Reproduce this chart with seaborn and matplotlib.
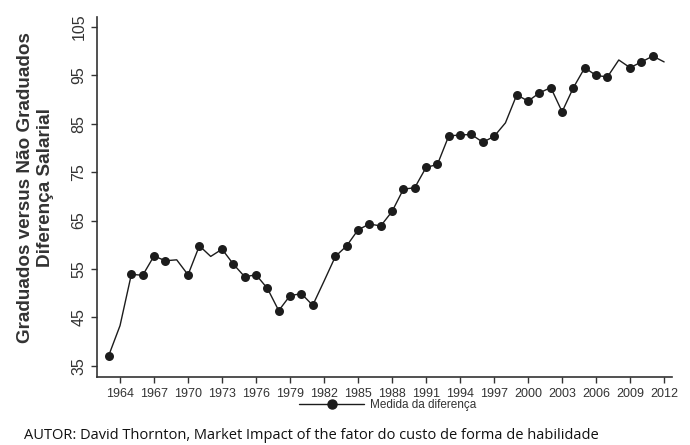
import numpy as np
import pandas as pd
import seaborn as sns
import matplotlib.pyplot as plt
from matplotlib.lines import Line2D

# Dados
anos = list(range(1963, 2013))
diferenca = [37.1, 43.3, 53.9, 53.7, 57.7, 56.7, 56.9, 53.8, 59.8, 57.6,
             59.1, 56.0, 53.4, 53.8, 51.0, 46.4, 49.5, 49.9, 47.5, 52.5,
             57.6, 59.8, 63.1, 64.3, 63.9, 66.9, 71.5, 71.8, 76.0, 76.6,
             82.5, 82.7, 82.8, 81.2, 82.4, 85.2, 91.0, 89.7, 91.4, 92.5,
             87.5, 92.5, 96.6, 95.0, 94.7, 98.2, 96.6, 97.8, 99.0, 97.8]
sem_marcador = [1964, 1969, 1972, 1982, 1998, 2008, 2012]
anos_ticks = list(range(1964, 2013, 3))
y_ticks = [35, 45, 55, 65, 75, 85, 95, 105]

df = pd.DataFrame({'Ano': anos, 'Diferenca': diferenca})
df_marc = df[~df['Ano'].isin(sem_marcador)]

sns.set_style('ticks')
plt.rcParams['font.family'] = ['Liberation Sans Narrow', 'Liberation Sans', 'DejaVu Sans']

cor = '#1c1c1c'
fig = plt.figure(figsize=(6.9, 4.45), dpi=100)
ax = fig.add_axes([0.1406, 0.153, 0.8334, 0.809])

sns.lineplot(data=df, x='Ano', y='Diferenca', color=cor, linewidth=1.0, ax=ax)
sns.scatterplot(data=df_marc, x='Ano', y='Diferenca', color=cor, s=42,
                edgecolor=cor, linewidth=0, ax=ax, zorder=3)

ax.set_xlim(1961.97, 2012.7)
ax.set_ylim(32.7, 107.1)
ax.set_xticks(anos_ticks)
ax.set_yticks(y_ticks)
ax.set_xticklabels([str(a) for a in anos_ticks], fontsize=9, color='#333333')
ax.set_yticklabels([str(v) for v in y_ticks], fontsize=11.5, color='#333333',
                   rotation=90, va='center')
ax.tick_params(axis='both', length=4, width=1.0, color='#333333')
ax.tick_params(axis='x', pad=4)
ax.set_xlabel('')
ax.set_ylabel('Graduados versus Não Graduados\nDiferença Salarial',
              fontsize=13.6, fontweight='bold', color='#333333',
              family=['Liberation Sans', 'DejaVu Sans'])
ax.yaxis.set_label_coords(-0.075, 0.527)
for s in ['left', 'bottom']:
    ax.spines[s].set_color('#333333')
    ax.spines[s].set_linewidth(1.2)
sns.despine(ax=ax)

handle = Line2D([], [], color=cor, linewidth=1.0, marker='o', markersize=6.5)
fig.legend(handles=[handle], labels=['Medida da diferença'], loc='center',
           bbox_to_anchor=(0.562, 0.09), frameon=False, handlelength=5.5,
           handletextpad=0.5, prop={'size': 8.5, 'family': ['Liberation Sans Narrow', 'Liberation Sans']},
           labelcolor='#333333')

fig.text(0.035, 0.004, 'AUTOR: David Thornton, Market Impact of the fator do custo de forma de habilidade',
         fontsize=10.5, family=['Open Sans', 'DejaVu Sans'], color='#111111', va='bottom')

fig.savefig('out.png', dpi=100)
